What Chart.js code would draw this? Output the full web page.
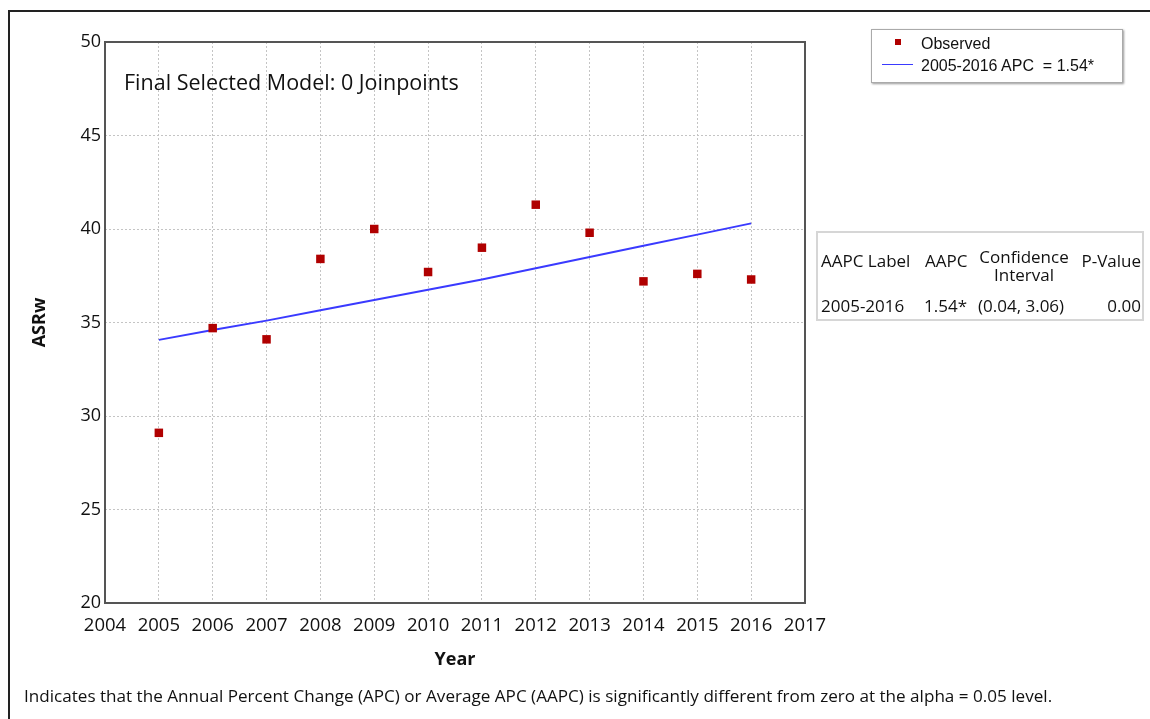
<!DOCTYPE html>
<html>
<head>
<meta charset="utf-8">
<script src="https://cdn.jsdelivr.net/npm/chart.js@4"></script>
<style>
  body { margin: 0; background: #fff; font-family: "Open Sans", sans-serif; }
  #wrap { position: relative; width: 1150px; height: 719px; overflow: hidden; }
  #frame { position: absolute; left: 8px; top: 10px; width: 1200px; height: 800px;
           border-left: 2px solid #222; border-top: 2px solid #222; }
  #chart { position: absolute; left: 0; top: 0; }
  #legend { position: absolute; left: 871px; top: 29px; width: 250px; height: 52px;
            border: 1px solid #aaa; box-shadow: 1px 1px 2px #999; background: #fff;
            font-family: "Liberation Sans", Arial, sans-serif; font-size: 16px; color: #111; }
  #legend .row { position: absolute; left: 49px; white-space: nowrap; }
  #legend .sq { position: absolute; left: 23px; top: 9px; width: 6px; height: 6px; background: #b00000; }
  #legend .ln { position: absolute; left: 10px; top: 34px; width: 31px; height: 0; border-top: 1.5px solid #3a3aff; }
  #aapc { position: absolute; left: 816px; top: 231px; width: 324px; height: 86px;
          border: 2px solid #d6d6d6; font-size: 17px; color: #111; }
  #aapc div { position: absolute; white-space: nowrap; line-height: 18px; }
  #note { position: absolute; left: 24px; top: 684px; font-size: 17.1px; color: #111; white-space: nowrap; }
</style>
</head>
<body>
<div id="wrap">
  <div id="frame"></div>
  <canvas id="chart" width="1150" height="719"></canvas>
  <div id="legend">
    <div class="sq"></div><div class="row" style="top:5px">Observed</div>
    <div class="ln"></div><div class="row" style="top:27px">2005-2016 APC&nbsp; = 1.54*</div>
  </div>
  <div id="aapc">
    <div style="left:3px; top:19px">AAPC Label</div>
    <div style="left:107px; top:19px">AAPC</div>
    <div style="left:156px; width:100px; top:15px; text-align:center">Confidence<br>Interval</div>
    <div style="right:1px; top:19px">P-Value</div>
    <div style="left:3px; top:64px">2005-2016</div>
    <div style="right:175px; top:64px">1.54*</div>
    <div style="left:160px; top:64px">(0.04, 3.06)</div>
    <div style="right:1px; top:64px">0.00</div>
  </div>
  <div id="note">Indicates that the Annual Percent Change (APC) or Average APC (AAPC) is significantly different from zero at the alpha = 0.05 level.</div>
</div>
<script>
// === Data ===
const years = [2005, 2006, 2007, 2008, 2009, 2010, 2011, 2012, 2013, 2014, 2015, 2016];
const observed = [29.1, 34.7, 34.1, 38.4, 40.0, 37.7, 39.0, 41.3, 39.8, 37.2, 37.6, 37.3];
const modeled = [34.07, 34.6, 35.1, 35.65, 36.2, 36.75, 37.3, 37.9, 38.5, 39.1, 39.7, 40.3];
const xTicks = [2004, 2005, 2006, 2007, 2008, 2009, 2010, 2011, 2012, 2013, 2014, 2015, 2016, 2017];
const yTicks = [20, 25, 30, 35, 40, 45, 50];

const font = "'Open Sans', sans-serif";

// frame round plot area + "Final Selected Model" caption
const plotDecor = {
  id: "plotDecor",
  afterDraw(chart) {
    const { ctx, chartArea: a } = chart;
    ctx.save();
    ctx.strokeStyle = "#555";
    ctx.lineWidth = 2;
    ctx.strokeRect(a.left, a.top, a.right - a.left, a.bottom - a.top);
    ctx.fillStyle = "#111";
    ctx.font = "21.5px " + font;
    ctx.textBaseline = "middle";
    ctx.fillText("Final Selected Model: 0 Joinpoints", a.left + 19, a.top + 42);
    ctx.restore();
  }
};

const edgeTicks = [20, 50, 2004, 2017];
const grid = {
  color: (c) => (c.tick && edgeTicks.includes(c.tick.value)) ? "rgba(0,0,0,0)" : "#c4c4c4",
  lineWidth: 1,
  tickLength: 0,
  drawTicks: false
};

new Chart(document.getElementById("chart"), {
  type: "scatter",
  data: {
    datasets: [
      {
        label: "Observed",
        data: years.map((y, i) => ({ x: y, y: observed[i] })),
        pointStyle: "rect",
        pointRadius: 6,
        backgroundColor: "#b00000",
        borderColor: "#b00000",
        borderWidth: 0,
        order: 1
      },
      {
        label: "2005-2016 APC = 1.54*",
        type: "line",
        data: years.map((y, i) => ({ x: y, y: modeled[i] })),
        borderColor: "#3a3aff",
        borderWidth: 2,
        pointRadius: 0,
        fill: false,
        tension: 0,
        order: 2
      }
    ]
  },
  options: {
    responsive: false,
    animation: false,
    layout: { padding: { left: 25, top: 42, right: 345, bottom: 44 } },
    plugins: { legend: { display: false }, tooltip: { enabled: false } },
    scales: {
      x: {
        type: "linear",
        min: 2004,
        max: 2017,
        afterBuildTicks: (s) => { s.ticks = xTicks.map((v) => ({ value: v })); },
        afterFit: (s) => { s.height = 72; },
        ticks: { color: "#111", font: { family: font, size: 18.5 }, padding: 12, maxRotation: 0, autoSkip: false,
                 callback: (v) => String(v) },
        grid: { ...grid },
        border: { display: false, dash: [2, 2] },
        title: { display: true, text: "Year", color: "#111", font: { family: font, size: 18, weight: "bold" } }
      },
      y: {
        min: 20,
        max: 50,
        afterBuildTicks: (s) => { s.ticks = yTicks.map((v) => ({ value: v })); },
        afterFit: (s) => { s.width = 80; },
        ticks: { color: "#111", font: { family: font, size: 18 }, padding: 4 },
        grid: { ...grid },
        border: { display: false, dash: [2, 2] },
        title: { display: true, text: "ASRw", color: "#111", font: { family: font, size: 18, weight: "bold" } }
      }
    }
  },
  plugins: [plotDecor]
});
</script>
</body>
</html>
